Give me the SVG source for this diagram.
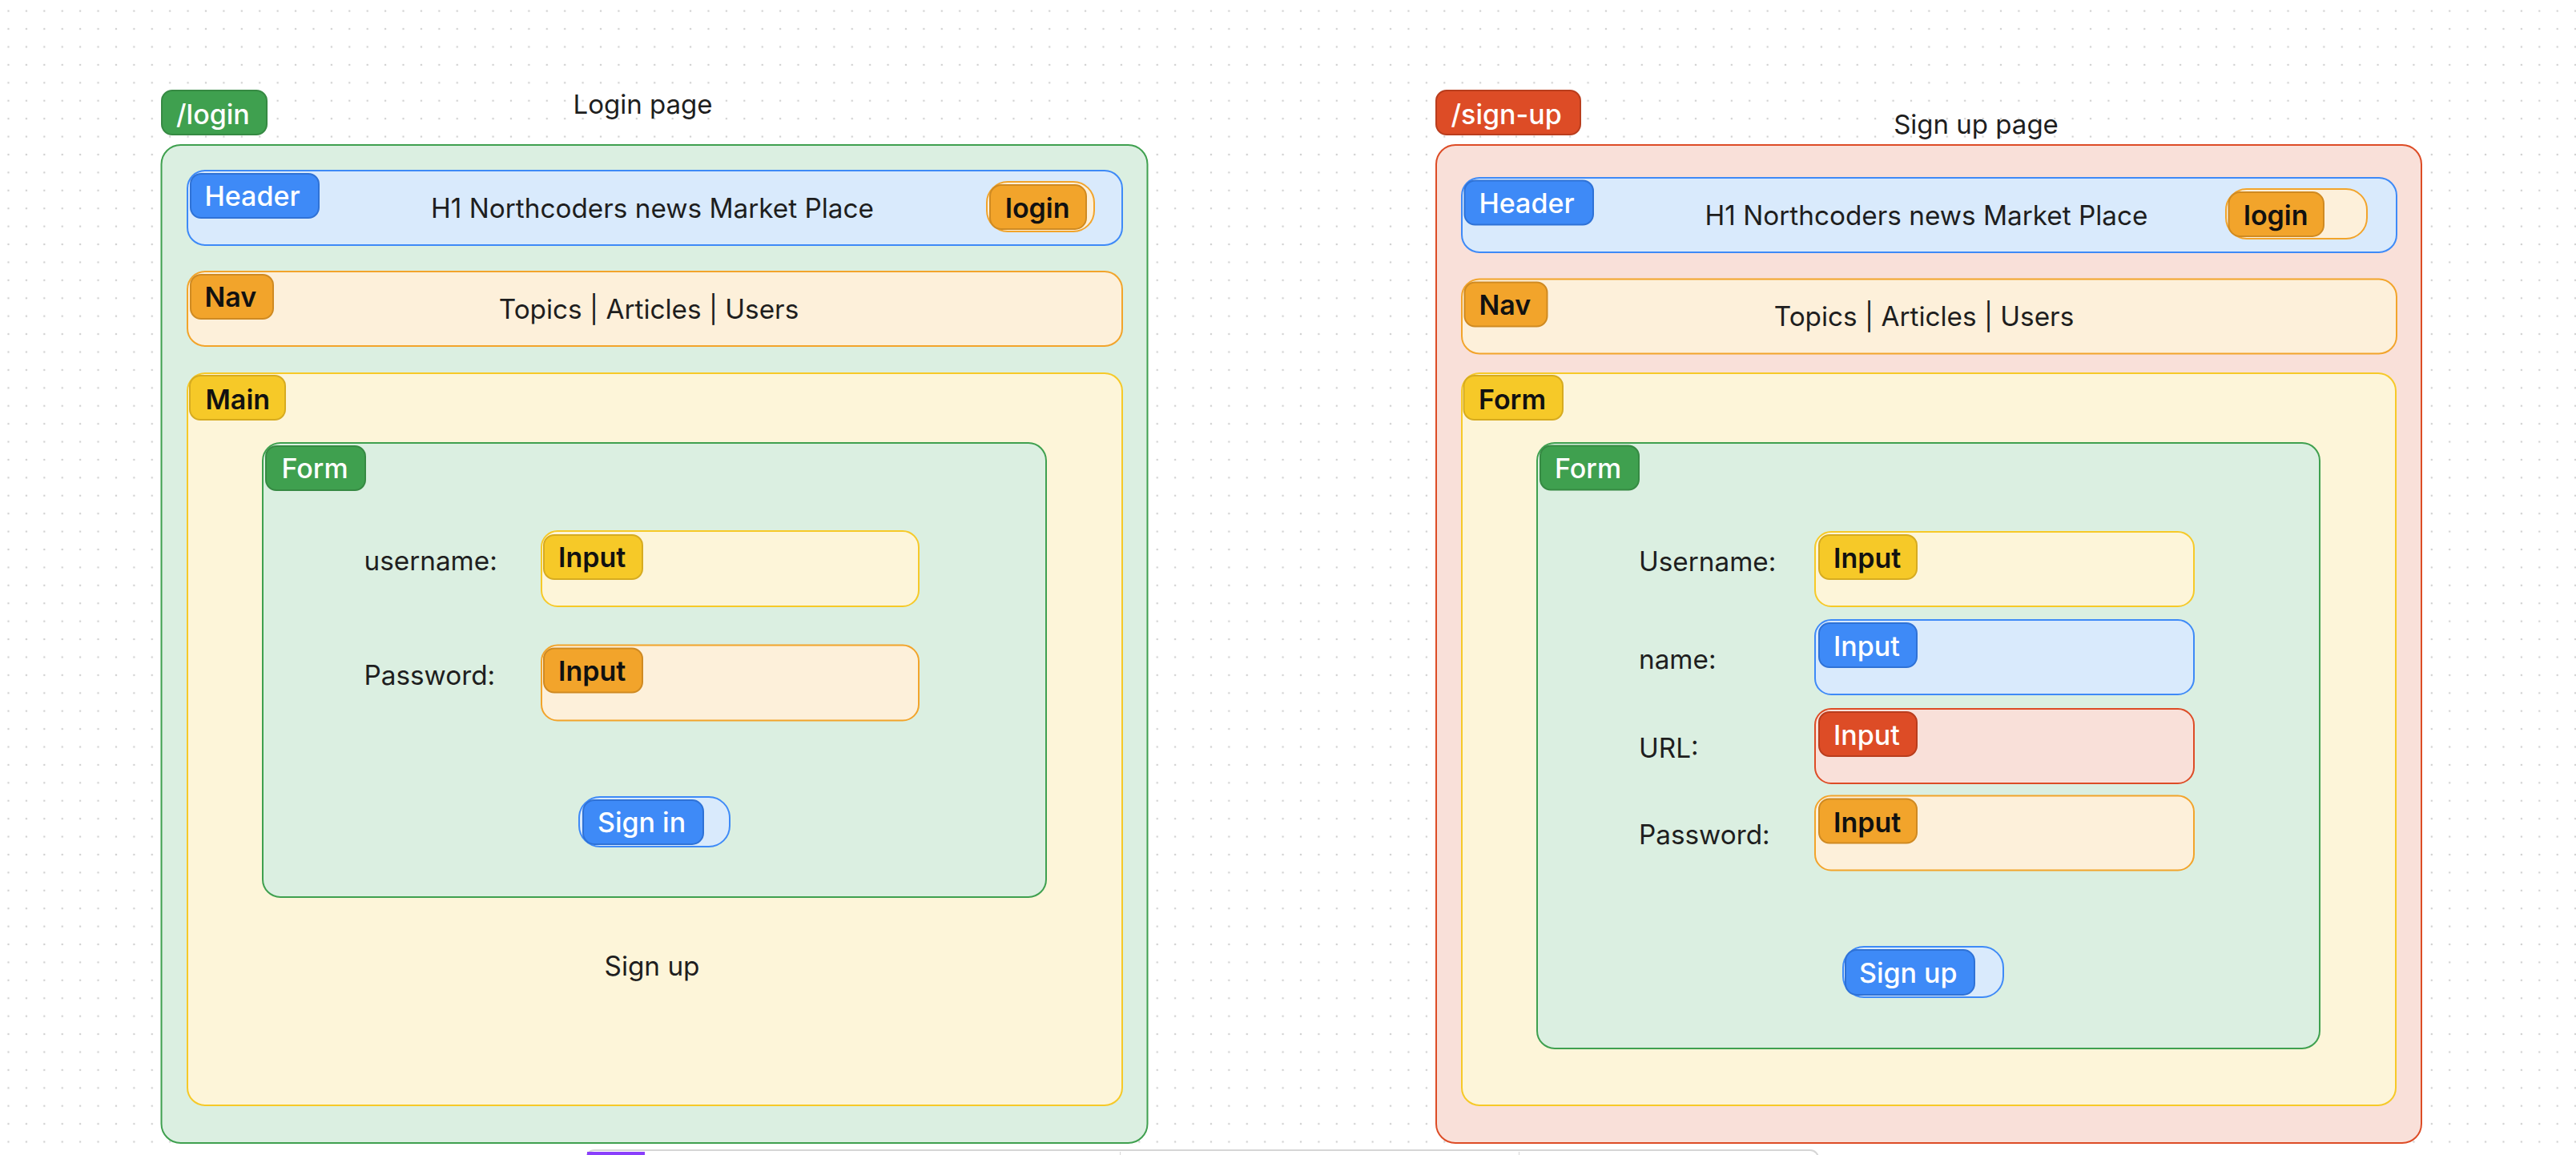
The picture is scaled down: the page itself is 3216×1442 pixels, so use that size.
<svg xmlns="http://www.w3.org/2000/svg" width="3216" height="1442" viewBox="0 0 3216 1442">
<defs>
<pattern id="dots" x="10.5" y="13.7" width="22.41" height="22.41" patternUnits="userSpaceOnUse">
<circle cx="0" cy="0" r="1.25" fill="#d0d0d0"/>
<circle cx="22.41" cy="0" r="1.25" fill="#d0d0d0"/>
<circle cx="0" cy="22.41" r="1.25" fill="#d0d0d0"/>
<circle cx="22.41" cy="22.41" r="1.25" fill="#d0d0d0"/>
</pattern>
</defs>
<style>
text{font-family:Inter,"Noto Sans","Liberation Sans",sans-serif;fill:#1e1e1e}
.t{font-size:33.3px}
.title{font-size:33px}
.tagt{font-size:34px;font-weight:600}
.w{fill:#ffffff;font-weight:500}
.k{fill:#111111}
.box{stroke-width:2}
.tag{stroke-width:2}
.bg-green{fill:#dbefe1;stroke:#3fa04f}
.bg-red{fill:#f9e0d9;stroke:#dd4c26}
.bg-blue{fill:#d9eafc;stroke:#3e8af7}
.bg-orange{fill:#fdf0da;stroke:#f2a42b}
.bg-yellow{fill:#fdf5d9;stroke:#f6c928}
.tg-green{fill:#3fa04f;stroke:#368a43}
.tg-red{fill:#dd4c26;stroke:#b93d1d}
.tg-blue{fill:#3e8af7;stroke:#2f72d6}
.tg-orange{fill:#f2a42b;stroke:#cf8a22}
.tg-yellow{fill:#f6c928;stroke:#d6ab20}
</style>
<rect x="0" y="0" width="3216" height="1442" fill="#ffffff"/>
<rect x="0" y="0" width="3216" height="1442" fill="url(#dots)"/>

<g id="login-page">
  <g id="login-route">
    <rect class="tag tg-green" x="202" y="113" width="131" height="55" rx="13"/>
    <text class="tagt w" x="220" y="155" font-size="36">/login</text>
  </g>
  <text class="title" x="802.5" y="142" text-anchor="middle">Login page</text>
  <rect class="box bg-green" x="201.5" y="181" width="1231" height="1246" rx="24"/>
  <g id="login-header">
    <rect class="box bg-blue" x="234" y="213" width="1167" height="93" rx="22"/>
    <rect class="tag tg-blue" x="238" y="217" width="160" height="55" rx="13"/>
    <text class="tagt w" x="255.5" y="257">Header</text>
    <text class="t" x="814.5" y="272" text-anchor="middle">H1 Northcoders news Market Place</text>
    <g id="login-header-button">
      <rect class="box bg-orange" x="1232" y="227" width="134" height="62" rx="26"/>
      <rect class="tag tg-orange" x="1236" y="231" width="120" height="55" rx="14"/>
      <text class="tagt k" x="1255" y="272">login</text>
    </g>
  </g>
  <g id="login-nav">
    <rect class="box bg-orange" x="234" y="339" width="1167" height="93" rx="22"/>
    <rect class="tag tg-orange" x="238" y="343" width="103" height="55" rx="13"/>
    <text class="tagt k" x="255.5" y="383">Nav</text>
    <text class="t" x="810" y="398" text-anchor="middle">Topics | Articles | Users</text>
  </g>
  <g id="login-main">
    <rect class="box bg-yellow" x="234" y="466" width="1167" height="914" rx="22"/>
    <rect class="tag tg-yellow" x="237" y="469" width="119" height="55" rx="13"/>
    <text class="tagt k" x="256.5" y="510.5">Main</text>
    <text class="t" x="814" y="1218" text-anchor="middle">Sign up</text>
  </g>
  <g id="login-form">
    <rect class="box bg-green" x="328" y="553" width="978" height="567" rx="22"/>
    <rect class="tag tg-green" x="332" y="557" width="124" height="55" rx="13"/>
    <text class="tagt w" x="351.5" y="597">Form</text>
  </g>
  <g id="login-username">
    <text class="t" x="454.5" y="712">username:</text>
    <rect class="box bg-yellow" x="676" y="663" width="471" height="94" rx="20"/>
    <rect class="tag tg-yellow" x="679" y="668" width="123" height="55" rx="13"/>
    <text class="tagt k" x="697" y="708">Input</text>
  </g>
  <g id="login-password">
    <text class="t" x="454.5" y="854.5">Password:</text>
    <rect class="box bg-orange" x="676" y="805.5" width="471" height="94" rx="20"/>
    <rect class="tag tg-orange" x="679" y="809.5" width="123" height="55" rx="13"/>
    <text class="tagt k" x="697" y="850">Input</text>
  </g>
  <g id="login-signin">
    <rect class="box bg-blue" x="723" y="995" width="188" height="62" rx="26"/>
    <rect class="tag tg-blue" x="728" y="999" width="150" height="55" rx="14"/>
    <text class="tagt w" x="746" y="1039">Sign in</text>
  </g>
</g>

<g id="signup-page">
  <g id="signup-route">
    <rect class="tag tg-red" x="1793" y="113" width="180" height="55" rx="13"/>
    <text class="tagt w" x="1811.5" y="155" font-size="36">/sign-up</text>
  </g>
  <text class="title" x="2467" y="167" text-anchor="middle">Sign up page</text>
  <rect class="box bg-red" x="1793" y="181" width="1230" height="1246" rx="24"/>
  <g id="signup-header">
    <rect class="box bg-blue" x="1825" y="222" width="1167" height="93" rx="22"/>
    <rect class="tag tg-blue" x="1828.5" y="225.5" width="160.5" height="55" rx="13"/>
    <text class="tagt w" x="1846.5" y="266">Header</text>
    <text class="t" x="2405" y="281" text-anchor="middle">H1 Northcoders news Market Place</text>
    <g id="signup-header-button">
      <rect class="box bg-orange" x="2779" y="236" width="176" height="62" rx="26"/>
      <rect class="tag tg-orange" x="2782.5" y="240" width="118.5" height="55" rx="14"/>
      <text class="tagt k" x="2801" y="281">login</text>
    </g>
  </g>
  <g id="signup-nav">
    <rect class="box bg-orange" x="1825" y="348.5" width="1167" height="93" rx="22"/>
    <rect class="tag tg-orange" x="1828.5" y="352.5" width="103" height="55" rx="13"/>
    <text class="tagt k" x="1846.5" y="392.5">Nav</text>
    <text class="t" x="2402" y="407" text-anchor="middle">Topics | Articles | Users</text>
  </g>
  <g id="signup-main">
    <rect class="box bg-yellow" x="1825" y="466" width="1166" height="914" rx="22"/>
    <rect class="tag tg-yellow" x="1827.5" y="469" width="123.5" height="55" rx="13"/>
    <text class="tagt k" x="1846" y="510.5">Form</text>
  </g>
  <g id="signup-form">
    <rect class="box bg-green" x="1919" y="553" width="977" height="756" rx="22"/>
    <rect class="tag tg-green" x="1923" y="556.5" width="123" height="55" rx="13"/>
    <text class="tagt w" x="1941" y="596.5">Form</text>
  </g>
  <g id="signup-username">
    <text class="t" x="2046" y="713">Username:</text>
    <rect class="box bg-yellow" x="2266" y="664" width="473" height="93" rx="20"/>
    <rect class="tag tg-yellow" x="2271" y="668" width="122" height="55" rx="13"/>
    <text class="tagt k" x="2289" y="709">Input</text>
  </g>
  <g id="signup-name">
    <text class="t" x="2046" y="835">name:</text>
    <rect class="box bg-blue" x="2266" y="774" width="473" height="93" rx="20"/>
    <rect class="tag tg-blue" x="2271" y="778" width="122" height="55" rx="13"/>
    <text class="tagt w" x="2289" y="819">Input</text>
  </g>
  <g id="signup-url">
    <text class="t" x="2046" y="946">URL:</text>
    <rect class="box bg-red" x="2266" y="885" width="473" height="93" rx="20"/>
    <rect class="tag tg-red" x="2271" y="889" width="122" height="55" rx="13"/>
    <text class="tagt w" x="2289" y="930">Input</text>
  </g>
  <g id="signup-password">
    <text class="t" x="2046" y="1054">Password:</text>
    <rect class="box bg-orange" x="2266" y="993.5" width="473" height="93" rx="20"/>
    <rect class="tag tg-orange" x="2271" y="997.5" width="122" height="55" rx="13"/>
    <text class="tagt k" x="2289" y="1038.5">Input</text>
  </g>
  <g id="signup-button">
    <rect class="box bg-blue" x="2301" y="1182" width="200" height="63" rx="26"/>
    <rect class="tag tg-blue" x="2304" y="1186" width="161" height="56" rx="14"/>
    <text class="tagt w" x="2321" y="1227">Sign up</text>
  </g>
</g>

<g id="connectors"></g>

<g id="toolbar">
  <rect x="732" y="1436" width="1538" height="40" rx="10" fill="#ffffff" stroke="#d6d6d6" stroke-width="2"/>
  <rect x="733" y="1438" width="72" height="10" fill="#8a3ffc"/>
  <line x1="1398.5" y1="1438" x2="1398.5" y2="1442" stroke="#d6d6d6" stroke-width="1"/>
  <line x1="1896.5" y1="1438" x2="1896.5" y2="1442" stroke="#d6d6d6" stroke-width="1"/>
</g>
</svg>
